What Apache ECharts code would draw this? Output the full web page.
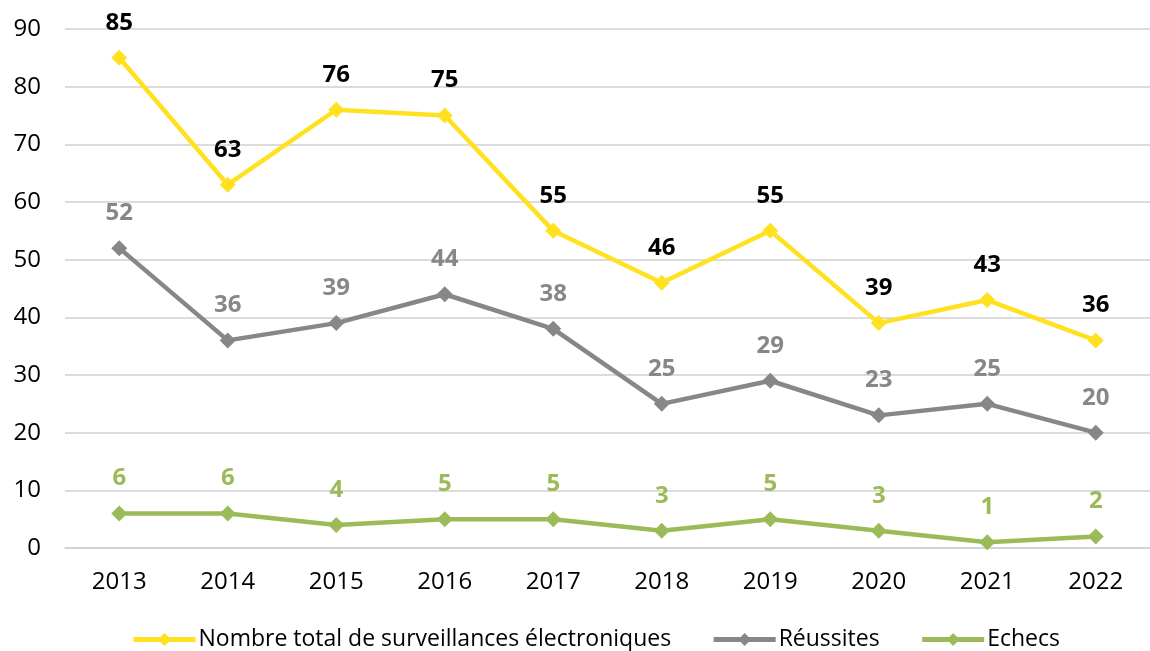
<!DOCTYPE html>
<html>
<head>
<meta charset="utf-8">
<script src="https://cdn.jsdelivr.net/npm/echarts@6/dist/echarts.min.js"></script>
<style>
  html, body { margin: 0; padding: 0; background: #fff; }
  #chart { width: 1150px; height: 651px; }
</style>
</head>
<body>
<div id="chart"></div>
<script>
var years = ["2013", "2014", "2015", "2016", "2017", "2018", "2019", "2020", "2021", "2022"];
var totalValues = [85, 63, 76, 75, 55, 46, 55, 39, 43, 36];
var reussiteValues = [52, 36, 39, 44, 38, 25, 29, 23, 25, 20];
var echecValues = [6, 6, 4, 5, 5, 3, 5, 3, 1, 2];
var seriesNames = ["Nombre total de surveillances électroniques", "Réussites", "Echecs"];

var font = "'Open Sans', 'Liberation Sans', sans-serif";

function makeSeries(name, data, color, labelColor) {
  return {
    name: name,
    type: "line",
    data: data,
    symbol: "diamond",
    symbolSize: 16,
    lineStyle: { color: color, width: 4.5 },
    itemStyle: { color: color },
    label: {
      show: true,
      position: "top",
      distance: 15,
      color: labelColor,
      fontFamily: font,
      fontWeight: "bold",
      fontSize: 24
    },
    animation: false
  };
}

var chart = echarts.init(document.getElementById("chart"));
chart.setOption({
  animation: false,
  grid: { left: 65, right: -10, top: 29, bottom: 103 },
  legend: {
    top: 623,
    left: 126,
    itemWidth: 62,
    itemHeight: 16,
    itemGap: 40,
    lineStyle: { width: 5 },
    textStyle: { fontFamily: font, fontSize: 23, color: "#000", padding: [0, 0, 0, -2] },
    data: seriesNames
  },
  xAxis: {
    type: "category",
    data: years,
    boundaryGap: true,
    axisLine: { show: true, lineStyle: { color: "#d0d0d0", width: 1.5 } },
    axisTick: { show: false },
    axisLabel: { fontFamily: font, fontSize: 24, color: "#000", margin: 22 }
  },
  yAxis: {
    type: "value",
    min: 0,
    max: 90,
    interval: 10,
    axisLine: { show: false },
    axisTick: { show: false },
    axisLabel: { fontFamily: font, fontSize: 24, color: "#000", margin: 24 },
    splitLine: { lineStyle: { color: "#d0d0d0", width: 1.5 } }
  },
  series: [
    makeSeries(seriesNames[0], totalValues, "#FFE11F", "#000"),
    makeSeries(seriesNames[1], reussiteValues, "#878787", "#878787"),
    makeSeries(seriesNames[2], echecValues, "#9BBB59", "#9BBB59")
  ]
});
</script>
</body>
</html>
